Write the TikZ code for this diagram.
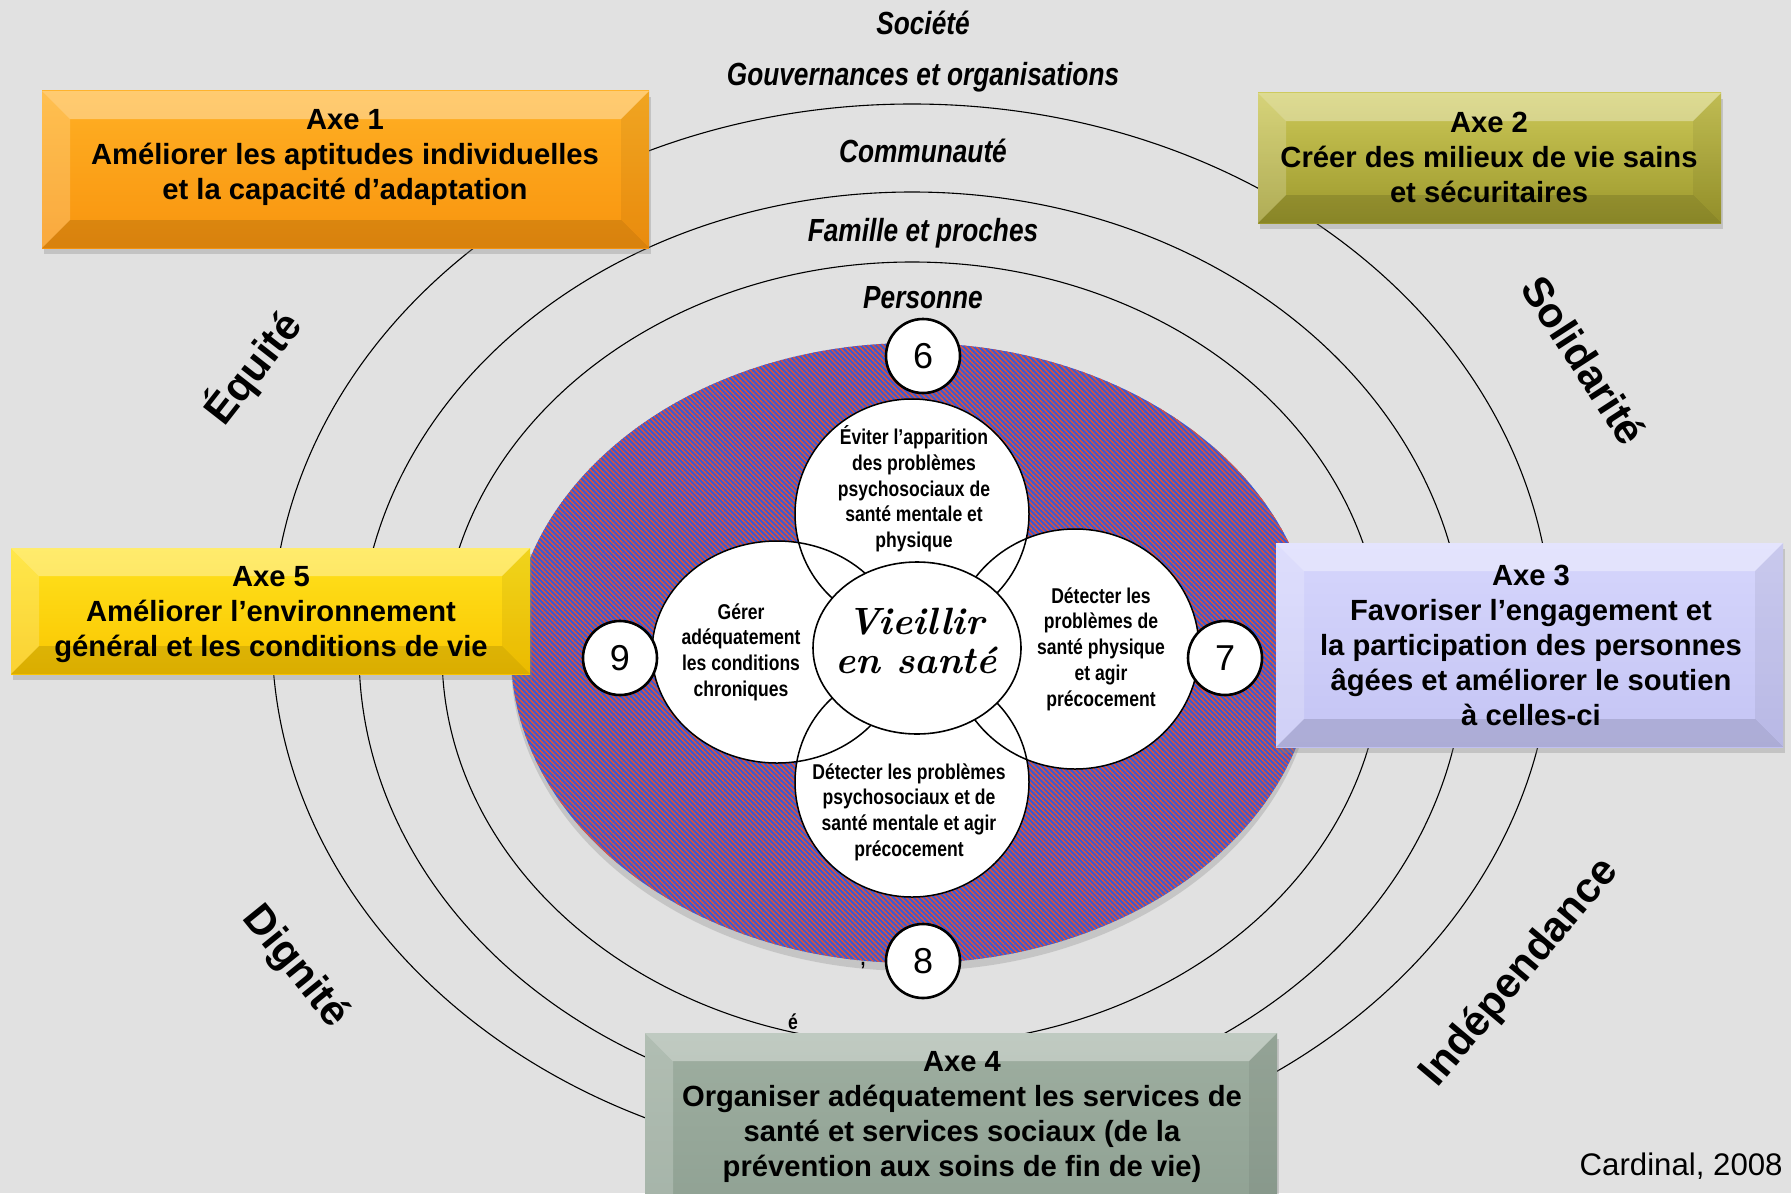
\documentclass[tikz,border=0pt]{standalone}
\usepackage{fontspec}
\setsansfont{Liberation Sans}
\newfontfamily\narrowfont[FakeStretch=0.82]{Liberation Sans}
\usetikzlibrary{shapes.geometric,shadows,patterns.meta}

\definecolor{bggray}{RGB}{225,225,225}
\definecolor{stripered}{RGB}{222,82,60}
\definecolor{stripeblue}{RGB}{58,90,212}
\definecolor{axeItop}{RGB}{255,176,36}
\definecolor{axeIbot}{RGB}{248,148,14}
\definecolor{axeIItop}{RGB}{204,200,88}
\definecolor{axeIIbot}{RGB}{156,152,44}
\definecolor{axeIIItop}{RGB}{214,214,252}
\definecolor{axeIIIbot}{RGB}{196,196,244}
\definecolor{axeIVtop}{RGB}{158,174,160}
\definecolor{axeIVbot}{RGB}{142,160,146}
\definecolor{axeVtop}{RGB}{255,226,30}
\definecolor{axeVbot}{RGB}{250,198,0}

\newcommand{\bevelfaces}{%
  \fill[white,opacity=.35] (path picture bounding box.north west) -- (path picture bounding box.north east)
    -- ([shift={(-14pt,-14pt)}]path picture bounding box.north east) -- ([shift={(14pt,-14pt)}]path picture bounding box.north west) -- cycle;
  \fill[white,opacity=.20] (path picture bounding box.north west) -- ([shift={(14pt,-14pt)}]path picture bounding box.north west)
    -- ([shift={(14pt,14pt)}]path picture bounding box.south west) -- (path picture bounding box.south west) -- cycle;
  \fill[black,opacity=.06] (path picture bounding box.north east) -- ([shift={(-14pt,-14pt)}]path picture bounding box.north east)
    -- ([shift={(-14pt,14pt)}]path picture bounding box.south east) -- (path picture bounding box.south east) -- cycle;
  \fill[black,opacity=.12] (path picture bounding box.south west) -- ([shift={(14pt,14pt)}]path picture bounding box.south west)
    -- ([shift={(-14pt,14pt)}]path picture bounding box.south east) -- (path picture bounding box.south east) -- cycle;
}

\tikzset{
  ring/.style={draw=black, line width=0.55pt},
  ringlabel/.style={inner sep=0pt, font=\narrowfont\bfseries\itshape\fontsize{16}{19}\selectfont},
  petalline/.style={draw=black, line width=0.75pt},
  petaltext/.style={inner sep=0pt, align=center, font=\narrowfont\bfseries\fontsize{10.7}{12.85}\selectfont},
  centre/.style={ellipse, draw=black, line width=0.8pt, fill=white, inner sep=0pt,
    minimum width=104pt, minimum height=86pt},
  centretext/.style={inner sep=0pt, align=center,
    font=\rmfamily\bfseries\itshape\fontsize{19}{19.5}\selectfont},
  numcirc/.style={circle, draw=black, line width=1.3pt, fill=white, inner sep=0pt,
    minimum size=37pt, font=\sffamily\fontsize{18}{20}\selectfont},
  axe/.style={rectangle, inner sep=0pt,
    drop shadow={opacity=.3, shadow xshift=1pt, shadow yshift=-3pt},
    path picture={\bevelfaces}},
  axetext/.style={inner sep=0pt, align=center, font=\sffamily\bfseries\fontsize{14.6}{17.5}\selectfont},
  valueword/.style={inner sep=0pt, font=\sffamily\bfseries\fontsize{21}{24}\selectfont},
  stray/.style={inner sep=0pt, font=\narrowfont\bfseries\fontsize{10.7}{12}\selectfont}
}

\begin{document}
\begin{tikzpicture}[x=0.5pt, y=-0.5pt]
\path[use as bounding box] (0,0) rectangle (1791,1193);
\clip (0,0) rectangle (1791,1193);
\fill[bggray] (0,0) rectangle (1791,1193);

% the three rings
\foreach \cy/\rx/\ry in {635/640/531, 653/553/461, 653.5/470/391.5}
	\draw[ring] (912,\cy) ellipse [x radius=\rx, y radius=\ry];

\node[ringlabel] (societe) at (923,23) {Société};
\node[ringlabel] (gouvernances) at (923,77) {Gouvernances et organisations};
\node[ringlabel] (communaute) at (923,151) {Communauté};
\node[ringlabel] (famille) at (923,233) {Famille et proches};
\node[ringlabel] (personne) at (923,298) {Personne};

% striped disc
\path[fill=stripeblue, postaction={pattern={Lines[angle=-45,distance=1.8pt,line width=0.7pt]}, pattern color=stripered},
  drop shadow={opacity=.28, shadow xshift=0pt, shadow yshift=-4pt}]
  (913,653) ellipse [x radius=402, y radius=310];

% petals: fills first, then outlines
\foreach \cx/\cy/\rx/\ry in {912/514/117/115, 1075/649/124/120, 912/782/117/115, 777/652/125/111}
	\fill[white] (\cx,\cy) ellipse [x radius=\rx, y radius=\ry];
\foreach \cx/\cy/\rx/\ry in {912/514/117/115, 1075/649/124/120, 912/782/117/115, 777/652/125/111}
	\draw[petalline] (\cx,\cy) ellipse [x radius=\rx, y radius=\ry];

\node[centre] (vieillir) at (917,648) {};
\node[centretext] (vieillirtxt) at (916,641) {Vieillir\\en santé};

\node[petaltext] (txtTop) at (914,489) {Éviter l’apparition\\des problèmes\\psychosociaux de\\santé mentale et\\physique};
\node[petaltext] (txtRight) at (1101,649) {Détecter les\\problèmes de\\santé physique\\et agir\\précocement};
\node[petaltext] (txtBottom) at (909,812) {Détecter les problèmes\\psychosociaux et de\\santé mentale et agir\\précocement};
\node[petaltext] (txtLeft) at (741,652) {Gérer\\adéquatement\\les conditions\\chroniques};

\foreach \n/\x/\y in {6/923/356, 7/1225/658, 8/923/961, 9/620/658}
	\node[numcirc] (num\n) at (\x,\y) {\n};

\node[stray] (virgule) at (863,966) {,};
\node[stray] (accent) at (793,1022) {é};

% the five axes
\node[axe, top color=axeItop, bottom color=axeIbot, minimum width=303.5pt, minimum height=78.5pt] (axeI) at (345.5,169.5) {};
\node[axe, top color=axeIItop, bottom color=axeIIbot, minimum width=231.5pt, minimum height=65pt] (axeII) at (1489.5,158) {};
\node[axe, top color=axeIIItop, bottom color=axeIIIbot, minimum width=253.5pt, minimum height=102pt] (axeIII) at (1529.5,645) {};
\node[axe, top color=axeIVtop, bottom color=axeIVbot, minimum width=316pt, minimum height=100pt] (axeIV) at (961,1133) {};
\node[axe, top color=axeVtop, bottom color=axeVbot, minimum width=259.5pt, minimum height=63pt] (axeV) at (270.5,611) {};

\node[axetext] (txtI) at (345,157) {Axe 1\\Améliorer les aptitudes individuelles\\et la capacité d’adaptation};
\node[axetext] (txtII) at (1489,157) {Axe 2\\Créer des milieux de vie sains\\et sécuritaires};
\node[axetext] (txtIII) at (1531,645) {Axe 3\\Favoriser l’engagement et\\la participation des personnes\\âgées et améliorer le soutien\\à celles-ci};
\node[axetext] (txtIV) at (962,1117) {Axe 4\\Organiser adéquatement les services de\\santé et services sociaux (de la\\prévention aux soins de fin de vie)};
\node[axetext] (txtV) at (271,615) {Axe 5\\Améliorer l’environnement\\général et les conditions de vie};

% values
\node[valueword, rotate=52] (equite) at (253,368) {Équité};
\node[valueword, rotate=-57] (solidarite) at (1584,360) {Solidarité};
\node[valueword, rotate=-51] (dignite) at (295,967) {Dignité};
\node[valueword, rotate=50] (independance) at (1520,973) {Indépendance};

\node[inner sep=0pt, anchor=east, font=\sffamily\fontsize{15.6}{18}\selectfont] (source) at (1783,1166) {Cardinal, 2008};

\end{tikzpicture}
\end{document}
